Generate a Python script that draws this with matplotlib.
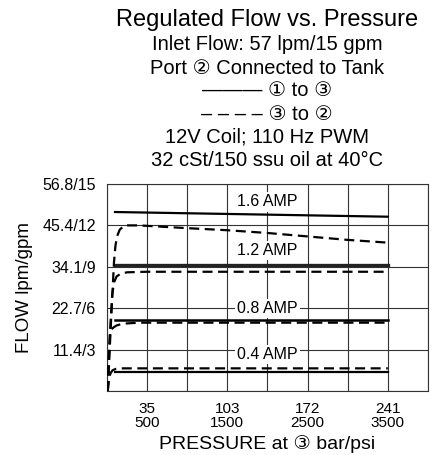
import matplotlib
matplotlib.use('Agg')
import matplotlib.pyplot as plt

plt.rcParams['font.family'] = ['Liberation Sans', 'DejaVu Sans']

# flow curves, x in psi, y in gpm
solid_psi = [100, 3500]
solid_16 = [12.97, 12.63]
solid_12 = [9.13, 9.13]
solid_08 = [5.14, 5.14]
solid_04 = [1.40, 1.40]

dash_16_psi = [10, 30, 50, 70, 87, 105, 125, 160, 220, 400, 1000, 1500, 2000, 2500, 3000, 3500]
dash_16 = [0, 2.5, 5.0, 7.3, 9.3, 10.5, 11.2, 11.7, 12.0, 12.0, 11.8, 11.65, 11.45, 11.2, 10.95, 10.75]
dash_12_psi = [10, 25, 45, 65, 90, 120, 170, 250, 500, 3500]
dash_12 = [0, 2.5, 5.0, 7.0, 7.9, 8.3, 8.5, 8.6, 8.64, 8.64]
dash_08_psi = [10, 20, 37, 55, 80, 120, 200, 400, 3500]
dash_08 = [0, 2.0, 4.2, 4.45, 4.6, 4.75, 4.88, 4.95, 4.95]
dash_04_psi = [10, 25, 45, 70, 110, 200, 3500]
dash_04 = [0, 0.9, 1.3, 1.5, 1.6, 1.64, 1.64]

amp_labels = ['1.6 AMP', '1.2 AMP', '0.8 AMP', '0.4 AMP']
amp_label_y = [13.7, 10.2, 6.0, 2.65]

y_ticks = [0, 3, 6, 9, 12, 15]
y_tick_labels = ['', '11.4/3', '22.7/6', '34.1/9', '45.4/12', '56.8/15']
x_grid = [0, 500, 1000, 1500, 2000, 2500, 3000, 3500, 4000]
x_ticks = [500, 1500, 2500, 3500]
x_tick_labels = ['35\n500', '103\n1500', '172\n2500', '241\n3500']

title_lines = [
    'Inlet Flow: 57 lpm/15 gpm',
    'Port \u2461 Connected to Tank',
    '\u2014\u2014\u2014 \u2460 to \u2462',
    '\u2013 \u2013 \u2013 \u2013 \u2462 to \u2461',
    '12V Coil; 110 Hz PWM',
    '32 cSt/150 ssu oil at 40\u00b0C',
]

fig = plt.figure(figsize=(4.34, 4.55), dpi=100)
ax = fig.add_axes([0.2465, 0.1407, 0.986 - 0.2465, 0.5956 - 0.1407])

for x in x_grid:
    ax.axvline(x, color='#333333', lw=0.8, zorder=1)
for y in y_ticks:
    ax.axhline(y, color='#333333', lw=0.8, zorder=1)

ax.plot(solid_psi, solid_16, color='black', lw=1.6, zorder=3)
ax.plot(solid_psi, solid_12, color='#222222', lw=2.4, zorder=3)
ax.plot(solid_psi, solid_08, color='black', lw=1.8, zorder=3)
ax.plot(solid_psi, solid_04, color='black', lw=1.6, zorder=3)

for px, fy in [(dash_16_psi, dash_16), (dash_12_psi, dash_12),
               (dash_08_psi, dash_08), (dash_04_psi, dash_04)]:
    ax.plot(px, fy, color='black', lw=1.6, dashes=(4.5, 2.5), zorder=3)

for lab, ly in zip(amp_labels, amp_label_y):
    ax.text(2000, ly, lab, ha='center', va='center', fontsize=11.5, zorder=4,
            bbox=dict(facecolor='white', edgecolor='none', pad=1.5))

ax.set_xlim(0, 4000)
ax.set_ylim(0, 15)
ax.set_xticks(x_ticks)
ax.set_xticklabels(x_tick_labels, fontsize=11, linespacing=0.95)
ax.set_yticks(y_ticks)
ax.set_yticklabels(y_tick_labels, fontsize=11.5)
ax.tick_params(length=0, pad=8)
ax.tick_params(axis='x', pad=8)
for s in ax.spines.values():
    s.set_color('#333333')
    s.set_linewidth(0.8)

ax.set_xlabel('PRESSURE at \u2462 bar/psi', fontsize=14, labelpad=4)
ax.set_ylabel('FLOW lpm/gpm', fontsize=13.5, labelpad=7)

cx = 267 / 434
fig.text(cx, 1 - 20 / 455, 'Regulated Flow vs. Pressure', ha='center', va='center', fontsize=17)
for i, line in enumerate(title_lines):
    fig.text(cx, 1 - (45 + 23 * i) / 455, line, ha='center', va='center', fontsize=14.5)

fig.savefig('out.png', dpi=100)
